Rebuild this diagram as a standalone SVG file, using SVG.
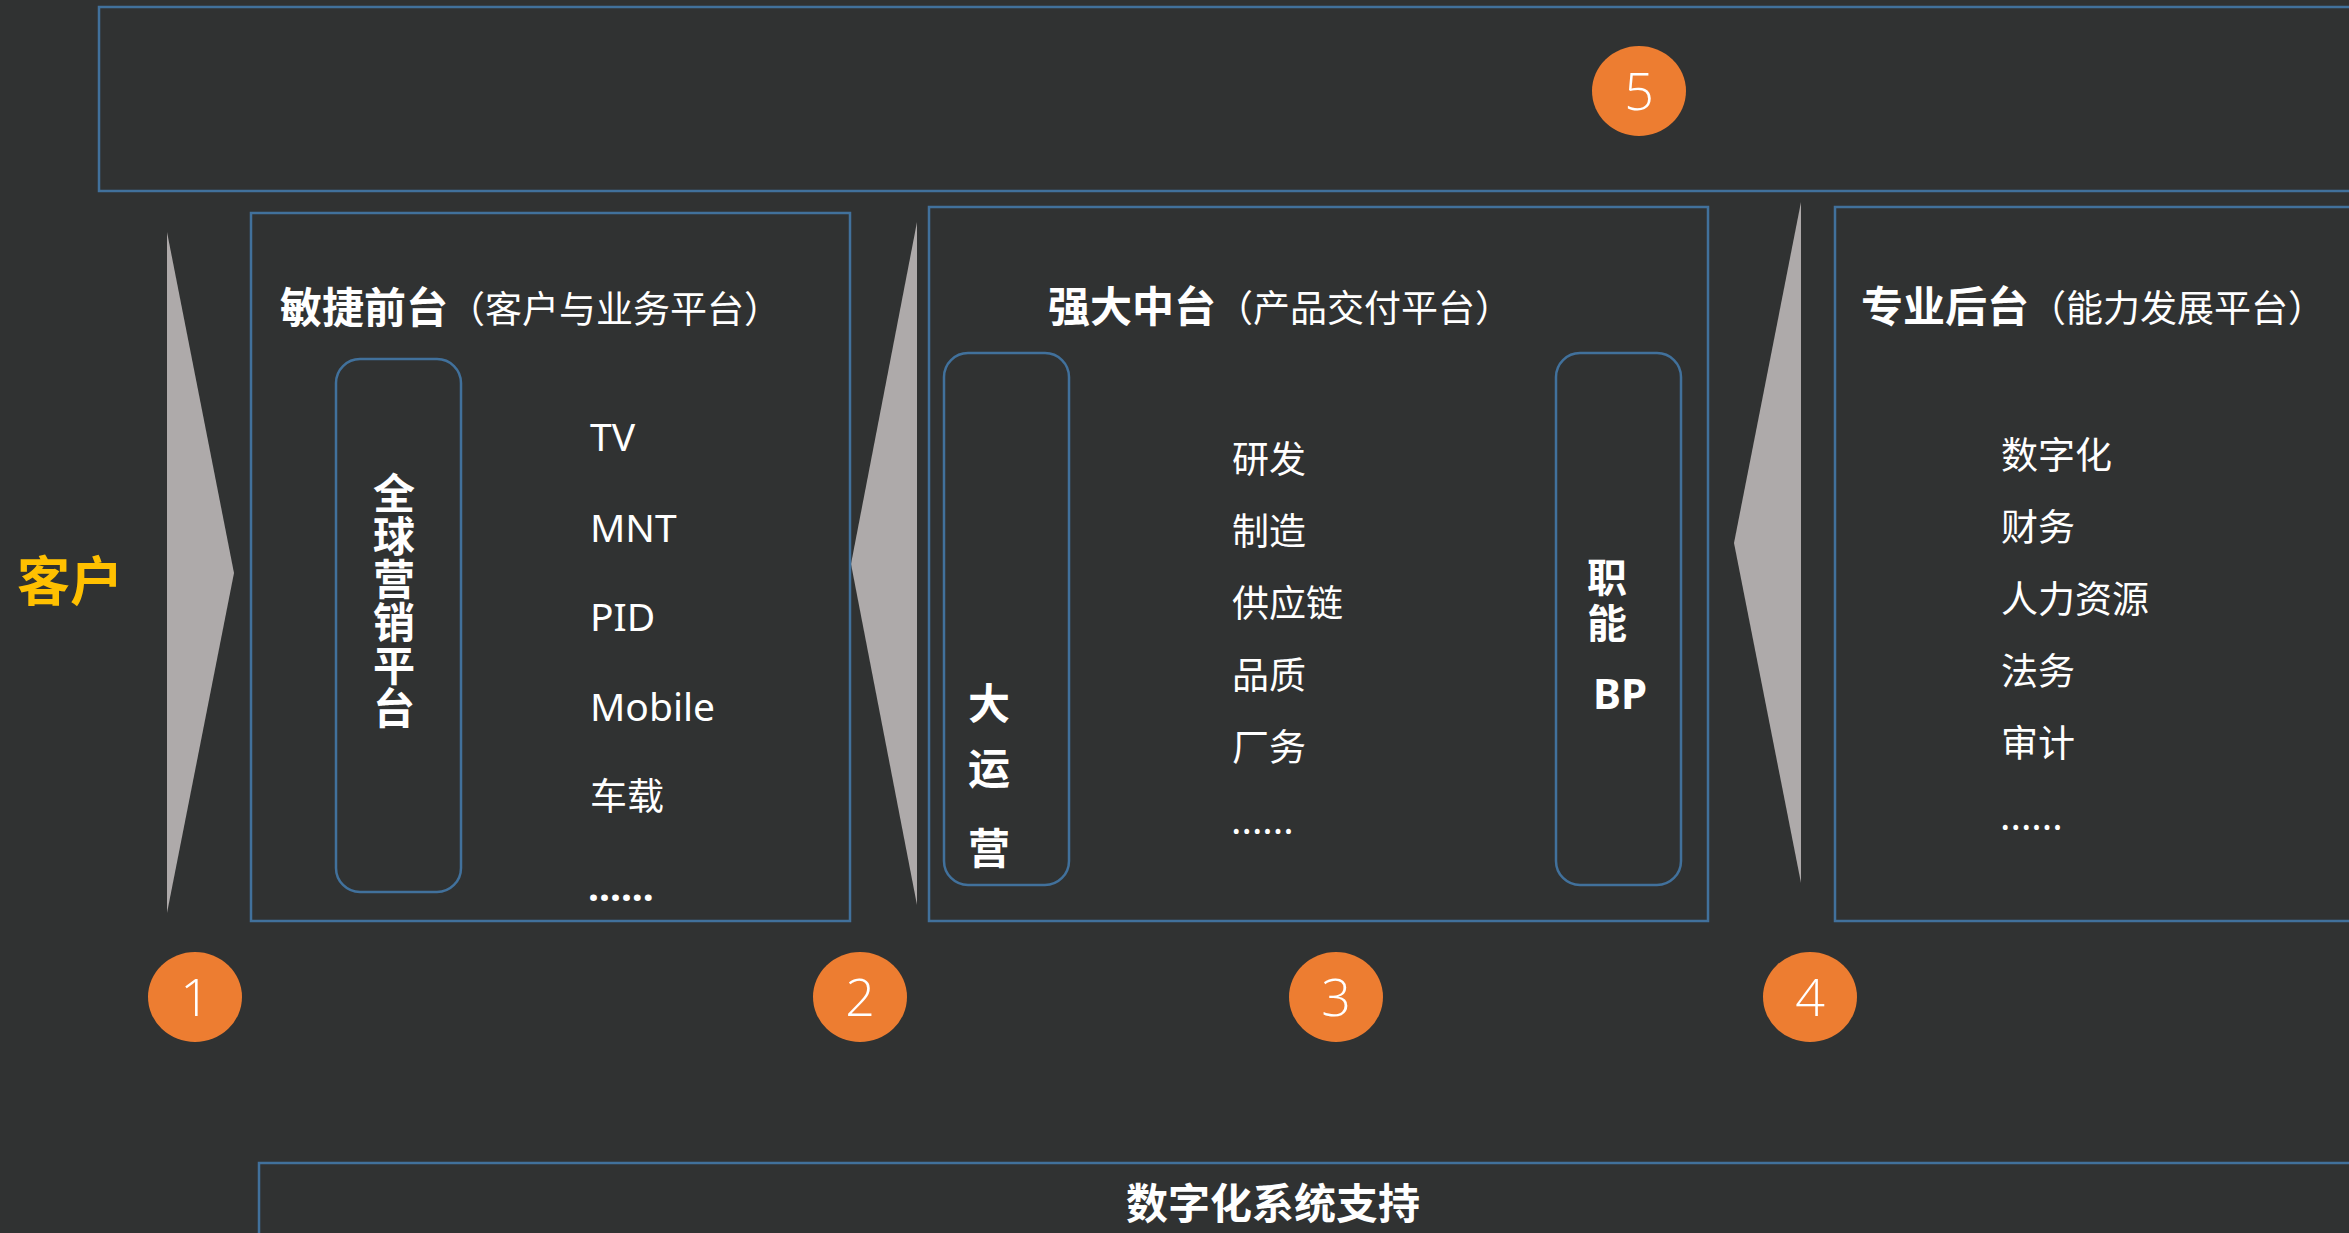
<svg xmlns="http://www.w3.org/2000/svg" width="2349" height="1233" viewBox="0 0 2349 1233">
<style>
.bg{fill:#303232}
.box{fill:none;stroke:#41719c;stroke-width:2.5}
.rbox{fill:none;stroke:#41719c;stroke-width:2.5}
.tri{fill:#aeaaaa}
.badge{fill:#ed7d31}
.num{fill:#ffffff;font-family:"Open Sans","Noto Sans",sans-serif;font-weight:300;font-size:52px;text-anchor:middle}
.tb{fill:#ffffff;font-family:"Noto Sans CJK SC",sans-serif;font-weight:700;font-size:42px}
.tr{fill:#ffffff;font-family:"Noto Sans CJK SC",sans-serif;font-weight:400;font-size:37px}
.item{fill:#ffffff;font-family:"Noto Sans","Noto Sans CJK SC",sans-serif;font-size:39px}
.cn{fill:#ffffff;font-family:"Noto Sans CJK SC",sans-serif;font-size:37px}
.vt{fill:#ffffff;font-family:"Noto Sans CJK SC",sans-serif;font-weight:700;font-size:42px;text-anchor:middle}
</style>
<rect class="bg" x="0" y="0" width="2349" height="1233"/>

<g id="top-band">
  <rect class="box" x="99" y="7" width="2300" height="184"/>
</g>
<g id="badge-5">
  <ellipse class="badge" cx="1639" cy="91" rx="47" ry="45"/>
  <text class="num" x="1639" y="110">5</text>
</g>

<g id="customer">
  <text x="70" y="601" fill="#ffc000" font-family="'Noto Sans CJK SC',sans-serif" font-weight="700" font-size="53" text-anchor="middle">客户</text>
</g>

<g id="connectors">
  <polygon class="tri" points="167,232 234,573 167,913"/>
  <polygon class="tri" points="917,222 851,564 917,905"/>
  <polygon class="tri" points="1801,202 1734,543 1801,883"/>
</g>

<g id="front-office">
  <rect class="box" x="251" y="213" width="599" height="708"/>
  <text x="280" y="323"><tspan class="tb">敏捷前台</tspan><tspan class="tr">（客户与业务平台）</tspan></text>
  <g id="global-marketing">
    <rect class="rbox" x="336" y="359" width="125" height="533" rx="24"/>
    <text x="394" y="472" fill="#ffffff" font-family="'Noto Sans CJK SC',sans-serif" font-weight="700" font-size="42" writing-mode="tb" letter-spacing="1">全球营销平台</text>
  </g>
  <text class="item" x="590" y="451">TV</text>
  <text class="item" x="590" y="542">MNT</text>
  <text class="item" x="590" y="631">PID</text>
  <text class="item" x="590" y="721">Mobile</text>
  <text class="cn" x="590" y="810">车载</text>
  <text class="item" x="588" y="901" font-weight="700" font-size="34">......</text>
</g>

<g id="middle-office">
  <rect class="box" x="929" y="207" width="779" height="714"/>
  <text x="1048" y="322"><tspan class="tb">强大中台</tspan><tspan class="tr">（产品交付平台）</tspan></text>
  <g id="big-operation">
    <rect class="rbox" x="944" y="353" width="125" height="532" rx="24"/>
    <text class="vt" x="989" y="719" font-size="40">大</text>
    <text class="vt" x="989" y="784" font-size="40">运</text>
    <text class="vt" x="989" y="864" font-size="40">营</text>
  </g>
  <text class="cn" x="1232" y="473">研发</text>
  <text class="cn" x="1232" y="545">制造</text>
  <text class="cn" x="1232" y="617">供应链</text>
  <text class="cn" x="1232" y="689">品质</text>
  <text class="cn" x="1232" y="761">厂务</text>
  <text class="item" x="1231" y="834" font-size="30">......</text>
  <g id="function-bp">
    <rect class="rbox" x="1556" y="353" width="125" height="532" rx="24"/>
    <text x="1607" y="557" fill="#ffffff" font-family="'Noto Sans CJK SC',sans-serif" font-weight="700" font-size="40" writing-mode="tb" letter-spacing="6">职能</text>
    <text x="1593" y="709" fill="#ffffff" font-family="'Noto Sans',sans-serif" font-weight="700" font-size="42">BP</text>
  </g>
</g>

<g id="back-office">
  <rect class="box" x="1835" y="207" width="560" height="714"/>
  <text x="1861" y="322"><tspan class="tb">专业后台</tspan><tspan class="tr">（能力发展平台）</tspan></text>
  <text class="cn" x="2001" y="469">数字化</text>
  <text class="cn" x="2001" y="541">财务</text>
  <text class="cn" x="2001" y="613">人力资源</text>
  <text class="cn" x="2001" y="685">法务</text>
  <text class="cn" x="2001" y="757">审计</text>
  <text class="item" x="2000" y="830" font-size="30">......</text>
</g>

<g id="badge-1">
  <ellipse class="badge" cx="195" cy="997" rx="47" ry="45"/>
  <text class="num" x="195" y="1016">1</text>
</g>
<g id="badge-2">
  <ellipse class="badge" cx="860" cy="997" rx="47" ry="45"/>
  <text class="num" x="860" y="1016">2</text>
</g>
<g id="badge-3">
  <ellipse class="badge" cx="1336" cy="997" rx="47" ry="45"/>
  <text class="num" x="1336" y="1016">3</text>
</g>
<g id="badge-4">
  <ellipse class="badge" cx="1810" cy="997" rx="47" ry="45"/>
  <text class="num" x="1810" y="1016">4</text>
</g>

<g id="digital-support">
  <rect class="box" x="259" y="1163" width="2200" height="200"/>
  <text class="tb" x="1273" y="1219" text-anchor="middle">数字化系统支持</text>
</g>
</svg>
